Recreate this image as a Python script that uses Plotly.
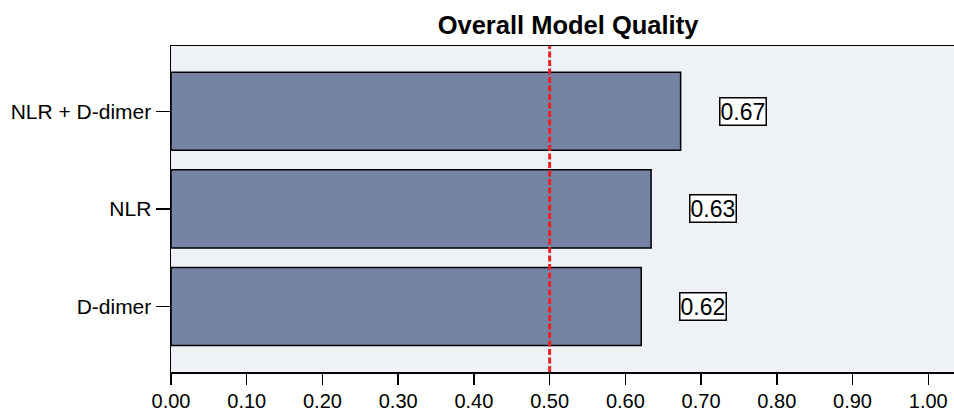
import plotly.graph_objects as go

categories = ["D-dimer", "NLR", "NLR + D-dimer"]
values = [0.621, 0.634, 0.673]
labels = ["0.62", "0.63", "0.67"]
reference_line = 0.50
x_ticks = [0.0, 0.1, 0.2, 0.3, 0.4, 0.5, 0.6, 0.7, 0.8, 0.9, 1.0]
x_tick_text = ["0.00", "0.10", "0.20", "0.30", "0.40", "0.50", "0.60", "0.70", "0.80", "0.90", "1.00"]

FONT = "Liberation Sans, Arial, sans-serif"

fig = go.Figure()
fig.add_trace(go.Bar(
    x=values, y=categories, orientation="h",
    width=0.8,
    marker=dict(color="#7584a4", line=dict(color="black", width=1.5)),
    showlegend=False, hoverinfo="skip",
))

fig.add_shape(type="line", xref="x", yref="paper",
              x0=reference_line, x1=reference_line, y0=0, y1=1,
              line=dict(color="#ee2028", width=3, dash="6px,2.5px"))

for c, v, t in zip(categories, values, labels):
    fig.add_annotation(x=v, y=c, xref="x", yref="y", text=t,
                       showarrow=False, xanchor="left", xshift=38,
                       font=dict(family=FONT, size=23, color="black"),
                       bgcolor="white", bordercolor="black", borderwidth=1.5, borderpad=0)

fig.update_layout(
    width=954, height=411,
    margin=dict(l=171, r=0, t=46, b=39, autoexpand=False),
    paper_bgcolor="white", plot_bgcolor="#eef1f6",
    font=dict(family=FONT, size=20, color="black"),
    title=dict(text="<b>Overall Model Quality</b>", xref="container", x=0.5954,
               xanchor="center", y=0.939, yanchor="middle",
               font=dict(family=FONT, size=25.5, color="black")),
    bargap=0.2,
)
fig.update_xaxes(range=[0, 1.034], tickvals=x_ticks, ticktext=x_tick_text,
                 showgrid=False, zeroline=False, showline=True, linecolor="black",
                 linewidth=1.5, mirror=True, ticks="outside", ticklen=11,
                 tickwidth=1.5, tickcolor="black", tickfont=dict(size=20),
                 ticklabelstandoff=-1)
fig.update_yaxes(range=[-0.671, 2.669], categoryorder="array", categoryarray=categories,
                 showgrid=False, zeroline=False, showline=True, linecolor="black",
                 linewidth=1.5, ticks="outside", ticklen=14, tickwidth=1.5,
                 tickcolor="black", tickfont=dict(size=21))

fig.write_html("out.html", config={"displayModeBar": False, "staticPlot": True},
               post_script="document.body.style.margin='0';document.body.style.overflow='hidden';")
